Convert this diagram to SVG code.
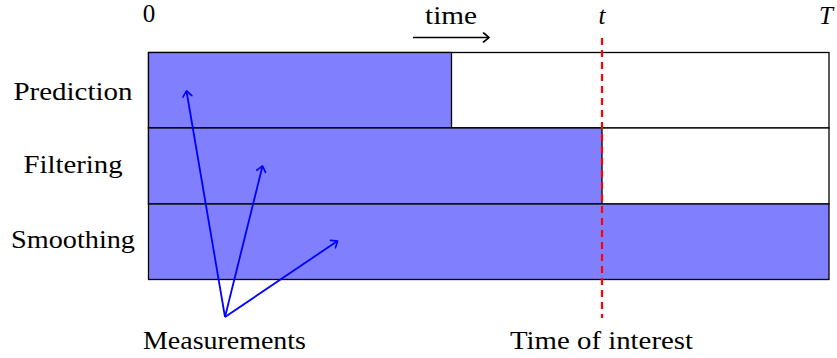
<svg xmlns="http://www.w3.org/2000/svg" width="837" height="358" viewBox="0 0 837 358">
<defs>
<style>
text{font-family:"Liberation Serif","DejaVu Serif",serif;font-size:25px;fill:#000}
.it{font-style:italic}
.box{stroke:#000;stroke-width:1.3}
.blue{fill:#8080ff}
.white{fill:#fff}
.meas{stroke:#0000ff;stroke-width:1.8;fill:none}
</style>
<marker id="bh" viewBox="-7 -6 9 12" markerWidth="9" markerHeight="12" refX="0" refY="0" orient="auto" markerUnits="userSpaceOnUse">
<path d="M-5.5,-4.5 Q-1,-1 0,0 Q-1,1 -5.5,4.5" fill="none" stroke="#0000ff" stroke-width="1.6" stroke-linecap="round"/>
</marker>
<marker id="kh" viewBox="-7 -6 9 12" markerWidth="9" markerHeight="12" refX="0" refY="0" orient="auto" markerUnits="userSpaceOnUse">
<path d="M-5.5,-4.5 Q-1,-1 0,0 Q-1,1 -5.5,4.5" fill="none" stroke="#000" stroke-width="1.6" stroke-linecap="round"/>
</marker>
</defs>
<g id="prediction">
<rect class="box white" x="148.5" y="52.5" width="680.5" height="75.5"/>
<rect class="box blue" x="148.5" y="52.5" width="303" height="75.5"/>
<text x="73" y="100" text-anchor="middle" textLength="119" lengthAdjust="spacingAndGlyphs">Prediction</text>
</g>
<g id="filtering">
<rect class="box white" x="148.5" y="128" width="680.5" height="76"/>
<rect class="box blue" x="148.5" y="128" width="453.5" height="76"/>
<text x="73" y="173" text-anchor="middle" textLength="99" lengthAdjust="spacingAndGlyphs">Filtering</text>
</g>
<g id="smoothing">
<rect class="box blue" x="148.5" y="204" width="680.5" height="75.5"/>
<text x="73" y="248" text-anchor="middle" textLength="124" lengthAdjust="spacingAndGlyphs">Smoothing</text>
</g>
<g id="axis">
<text x="149" y="22" text-anchor="middle">0</text>
<text x="451" y="24" text-anchor="middle" textLength="52" lengthAdjust="spacingAndGlyphs">time</text>
<text class="it" x="602" y="24" text-anchor="middle">t</text>
<text class="it" x="826" y="24" text-anchor="middle">T</text>
</g>
<g id="connectors">
<line x1="413" y1="37.5" x2="489" y2="37.5" stroke="#000" stroke-width="1.6" marker-end="url(#kh)"/>
<line x1="602" y1="38" x2="602" y2="318" stroke="#ff0000" stroke-width="2.2" stroke-dasharray="7,5"/>
<line class="meas" x1="225" y1="317" x2="186.5" y2="91" marker-end="url(#bh)"/>
<line class="meas" x1="225" y1="317" x2="262.5" y2="166" marker-end="url(#bh)"/>
<line class="meas" x1="225" y1="317" x2="337.5" y2="241" marker-end="url(#bh)"/>
</g>
<g id="measurements">
<text x="224.5" y="349" text-anchor="middle" textLength="163" lengthAdjust="spacingAndGlyphs">Measurements</text>
</g>
<g id="time-of-interest">
<text x="601.5" y="349" text-anchor="middle" textLength="183" lengthAdjust="spacingAndGlyphs">Time of interest</text>
</g>
</svg>
